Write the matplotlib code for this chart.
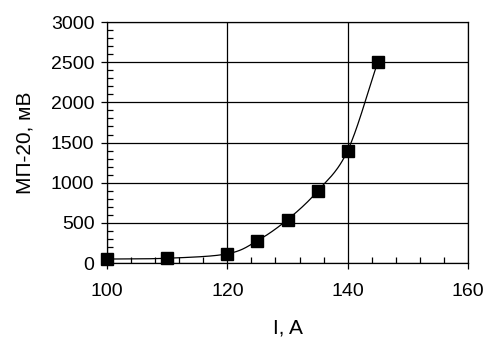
import numpy as np
import matplotlib
matplotlib.use("Agg")
import matplotlib.pyplot as plt
from matplotlib.ticker import MultipleLocator

current_a = [100, 110, 120, 125, 130, 135, 140, 145]
signal_mv = [50, 60, 115, 278, 540, 895, 1400, 2500]

x_ticks = [100, 120, 140, 160]
y_ticks = [0, 500, 1000, 1500, 2000, 2500, 3000]


def smooth_curve(x, y, n=40):
    # Catmull-Rom spline through the points, like a spreadsheet "smoothed line"
    x = np.asarray(x, float)
    y = np.asarray(y, float)
    px = np.concatenate([[2 * x[0] - x[1]], x, [2 * x[-1] - x[-2]]])
    py = np.concatenate([[2 * y[0] - y[1]], y, [2 * y[-1] - y[-2]]])
    xs, ys = [], []
    t = np.linspace(0, 1, n)
    for i in range(1, len(px) - 2):
        for p, out in ((px, xs), (py, ys)):
            p0, p1, p2, p3 = p[i - 1], p[i], p[i + 1], p[i + 2]
            out.append(0.5 * (2 * p1 + (-p0 + p2) * t
                              + (2 * p0 - 5 * p1 + 4 * p2 - p3) * t ** 2
                              + (-p0 + 3 * p1 - 3 * p2 + p3) * t ** 3))
    return np.concatenate(xs), np.concatenate(ys)


plt.rcParams["font.family"] = ["Liberation Sans", "DejaVu Sans"]

fig = plt.figure(figsize=(4.87, 3.39), dpi=100)
ax = fig.add_axes([0.2197, 0.224, 0.7413, 0.711])

sx, sy = smooth_curve(current_a, signal_mv)
ax.plot(sx, sy, color="black", lw=0.9, zorder=3)
ax.plot(current_a, signal_mv, ls="none", marker="s", ms=8,
        color="black", zorder=4, clip_on=False)

ax.set_xlim(100, 160)
ax.set_ylim(0, 3000)
ax.set_xticks(x_ticks)
ax.set_yticks(y_ticks)
ax.xaxis.set_minor_locator(MultipleLocator(4))
ax.yaxis.set_minor_locator(MultipleLocator(100))
ax.tick_params(which="major", direction="out", length=4.5, width=0.9,
               labelsize=14, colors="black", pad=4.5)
ax.tick_params(which="minor", direction="in", length=4, width=0.9)
ax.tick_params(axis="x", pad=10)
ax.grid(True, which="major", color="black", lw=0.9)
for side in ax.spines.values():
    side.set_linewidth(0.9)

ax.set_xlabel("I, A", fontsize=15, labelpad=13)
ax.set_ylabel("МП-20, мВ", fontsize=15, labelpad=12)

fig.savefig("out.png", dpi=100)
